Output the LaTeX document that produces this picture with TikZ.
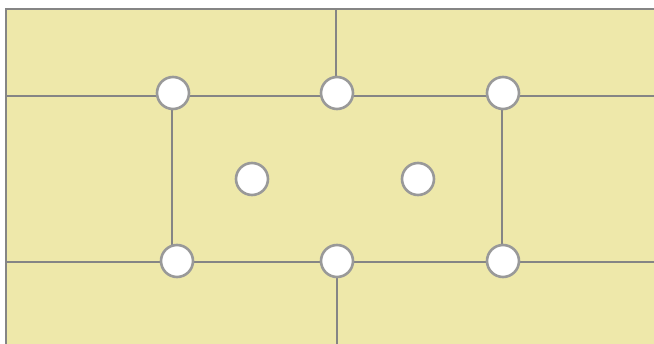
\documentclass[tikz,border=0pt]{standalone}
\definecolor{bg}{HTML}{EEE8AA}
\definecolor{ln}{HTML}{858585}
\definecolor{ring}{HTML}{999999}
\tikzset{
  wall/.style={draw=ln, line width=1.3pt},
  port/.style={circle, draw=ring, line width=2.6pt, fill=white, minimum size=32pt, inner sep=0pt}
}
\begin{document}
\begin{tikzpicture}[x=1pt,y=-1pt]
\useasboundingbox (0,0) rectangle (654,344);
\fill[bg] (6,9) rectangle (654,344);
% coordinates
\coordinate (tl) at (6,9);
\coordinate (tr) at (654,9);
\coordinate (bl) at (6,344);
\coordinate (hl1) at (6,96);
\coordinate (hr1) at (654,96);
\coordinate (hl2) at (6,262);
\coordinate (hr2) at (654,262);
\coordinate (vt) at (336,9);
\coordinate (vb) at (337,344);
\coordinate (va1) at (172,96);
\coordinate (va2) at (172,262);
\coordinate (vc1) at (502,96);
\coordinate (vc2) at (502,262);
\coordinate (vm1) at (336,93);
\coordinate (vm2) at (337,262);
\draw[wall] (bl) -- (tl) -- (tr);
\draw[wall] (hl1) -- (hr1);
\draw[wall] (hl2) -- (hr2);
\draw[wall] (vt) -- (vm1);
\draw[wall] (vm2) -- (vb);
\draw[wall] (va1) -- (va2);
\draw[wall] (vc1) -- (vc2);
% ports
\node[port] (p1) at (173,93) {};
\node[port] (p2) at (337,93) {};
\node[port] (p3) at (503,93) {};
\node[port] (p4) at (177,261) {};
\node[port] (p5) at (337,261) {};
\node[port] (p6) at (503,261) {};
\node[port] (p7) at (252,179) {};
\node[port] (p8) at (418,179) {};
\end{tikzpicture}
\end{document}
